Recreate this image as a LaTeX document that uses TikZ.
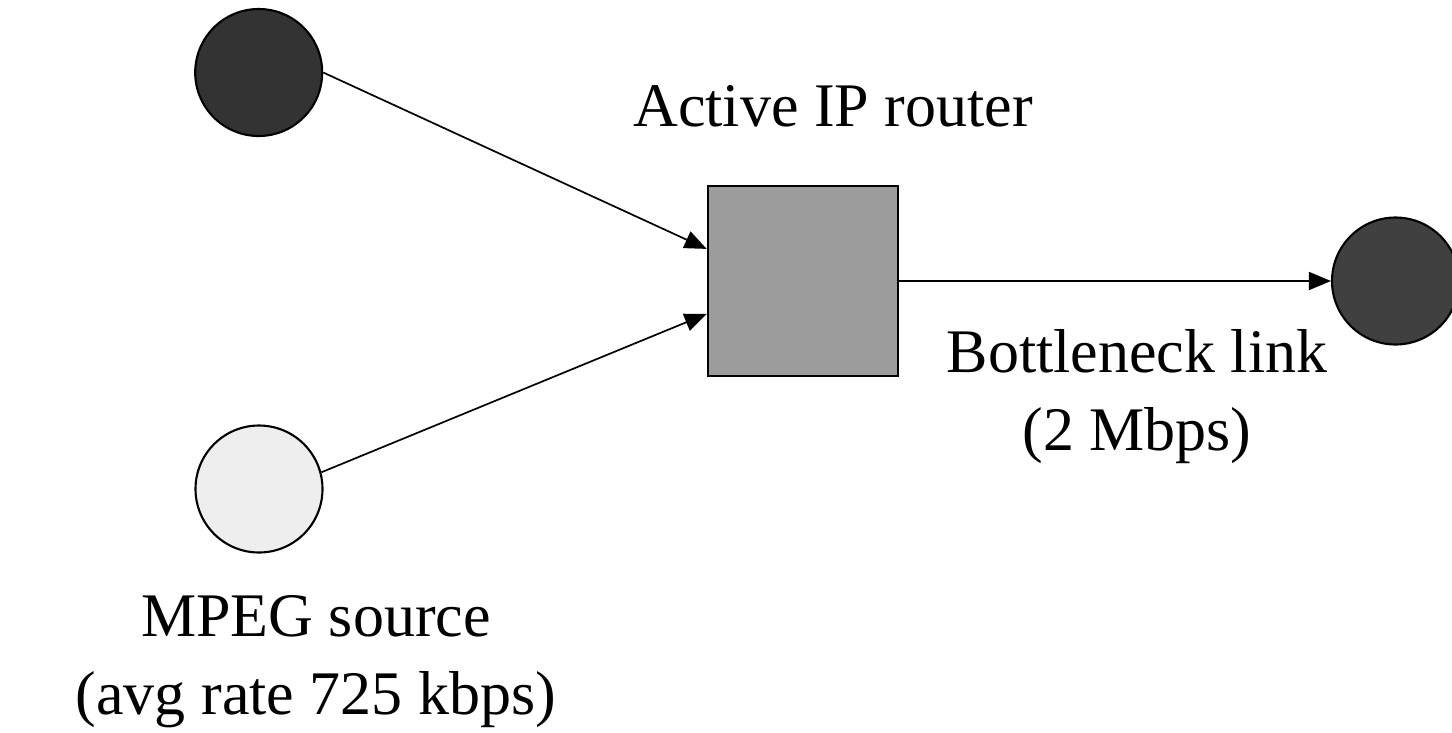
\documentclass[tikz,border=0pt]{standalone}
\usepackage{fontspec}
\setmainfont{Liberation Serif}
\usetikzlibrary{arrows.meta}

\definecolor{hostdark}{HTML}{333333}
\definecolor{sinkdark}{HTML}{404040}
\definecolor{routergray}{HTML}{9C9C9C}
\definecolor{sourcelight}{HTML}{EEEEEE}

\tikzset{
  host/.style={circle, draw=black, line width=2.1pt, minimum size=127pt, inner sep=0pt},
  router/.style={rectangle, draw=black, line width=2.1pt, minimum width=190pt, minimum height=190pt, inner sep=0pt},
  link/.style={line width=1.7pt, -{Triangle[length=22pt, width=18pt]}},
  caption/.style={font=\fontsize{62}{78}\selectfont, align=center, inner sep=0pt, anchor=base}
}

\begin{document}
\begin{tikzpicture}[x=1pt, y=-1pt]
  \useasboundingbox (0,0) rectangle (1452,732);

  % hosts and router
  \node[host, fill=hostdark] (cross) at (258.7,72.5) {};
  \node[host, fill=sourcelight] (mpeg) at (259,489) {};
  \node[router, fill=routergray] (router) at (802.7,280.9) {};
  \node[host, fill=sinkdark] (sink) at (1395.5,281) {};

  % links into and out of the router
  \draw[link] (cross.east) -- ([yshift=32pt]router.west);
  \draw[link] (mpeg.15) -- ([yshift=-33pt]router.west);
  \draw[link] (router.east) -- (sink.west);

  % labels (the base anchor of a two-line label sits on its last line)
  \node[caption] (routerlabel) at (833,126.5) {Active IP router};
  \node[caption] (linklabel) at (1137,450) {Bottleneck link\\(2 Mbps)};
  \node[caption] (mpeglabel) at (316,714) {MPEG source\\(avg rate 725 kbps)};
\end{tikzpicture}
\end{document}
